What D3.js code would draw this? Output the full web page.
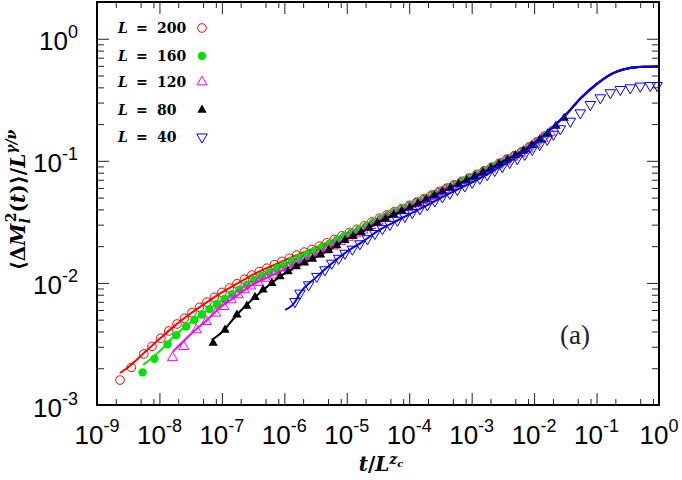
<!DOCTYPE html>
<html><head><meta charset="utf-8">
<script src="https://cdn.jsdelivr.net/npm/d3@7"></script>
<style>body{margin:0;background:#fff}svg{display:block}</style>
</head><body>
<svg id="c" width="682" height="480"></svg>
<script>
// ---------- tick data ----------
const xMajor = [1e-9,1e-8,1e-7,1e-6,1e-5,1e-4,1e-3,1e-2,1e-1,1];
const xExps  = ["-9","-8","-7","-6","-5","-4","-3","-2","-1","0"];
const yMajor = [1e-3,1e-2,1e-1,1];
const yExps  = ["-3","-2","-1","0"];
const xMinorMant = [2,5,8];
const yMinorMant = [2,3,4,5,6,7,8,9];
const legendLabels = ["200","160","120","80","40"];

// ---------- series data (points) ----------
const red_t = [2.34e-9,3.55e-9,5.62e-9,7.59e-9,1.05e-8,1.41e-8,1.91e-8,2.51e-8,3.31e-8,4.37e-8,5.75e-8,7.59e-8,1e-7,1.32e-7,1.74e-7,2.29e-7,3.02e-7,3.98e-7,5.25e-7,6.92e-7,9.12e-7,1.20e-6,1.58e-6,2.09e-6,2.75e-6,3.63e-6,4.79e-6,6.31e-6,8.32e-6,1.10e-5,1.45e-5,1.91e-5,2.51e-5,3.31e-5,4.37e-5,5.75e-5,7.59e-5,1e-4,1.32e-4,1.74e-4,2.29e-4,3.02e-4,3.98e-4,5.25e-4,6.92e-4,9.12e-4,1.20e-3,1.58e-3,2.09e-3,2.75e-3,3.63e-3,4.79e-3,6.31e-3,8.32e-3,1.10e-2,1.45e-2];
const red_v = [0.0016,0.00203,0.00262,0.00302,0.00352,0.00404,0.00461,0.00514,0.00572,0.00631,0.00695,0.00762,0.00836,0.00908,0.00984,0.0107,0.0116,0.0124,0.0132,0.0141,0.0150,0.0159,0.0169,0.0179,0.0188,0.0200,0.0213,0.0227,0.0243,0.0259,0.0275,0.0293,0.0316,0.0339,0.0361,0.0384,0.0407,0.0432,0.0460,0.0491,0.0525,0.0561,0.0598,0.0637,0.0679,0.0724,0.0774,0.0828,0.0887,0.0955,0.103,0.110,0.119,0.130,0.143,0.159];

const green_t = [5.37e-9,8.32e-9,1.35e-8,1.86e-8,2.69e-8,3.63e-8,4.79e-8,6.31e-8,8.32e-8,1.10e-7,1.45e-7,1.91e-7,2.51e-7,3.31e-7,4.37e-7,5.75e-7,7.59e-7,1e-6,1.32e-6,1.74e-6,2.29e-6,3.02e-6,3.98e-6,5.25e-6,6.92e-6,9.12e-6,1.20e-5,1.58e-5,2.09e-5,2.75e-5,3.63e-5,4.79e-5,6.31e-5,8.32e-5,1.10e-4,1.45e-4,1.91e-4,2.51e-4,3.31e-4,4.37e-4,5.75e-4,7.59e-4,1e-3,1.32e-3,1.74e-3,2.29e-3,3.02e-3,3.98e-3,5.25e-3,6.92e-3,9.12e-3,1.20e-2,1.58e-2];
const green_v = [0.00185,0.00239,0.00314,0.00373,0.00440,0.00497,0.00551,0.00611,0.00671,0.00738,0.00807,0.00885,0.00966,0.0106,0.0114,0.0122,0.0132,0.0141,0.0151,0.0162,0.0172,0.0183,0.0196,0.0209,0.0225,0.0242,0.0259,0.0275,0.0294,0.0318,0.0341,0.0364,0.0388,0.0411,0.0438,0.0467,0.0499,0.0535,0.0572,0.0608,0.0647,0.0690,0.0736,0.0787,0.0843,0.0906,0.0975,0.105,0.112,0.122,0.133,0.147,0.164];

const magenta_t = [1.62e-8,2.45e-8,3.89e-8,5.62e-8,7.94e-8,1.07e-7,1.41e-7,1.82e-7,2.29e-7,2.88e-7,3.80e-7,5.01e-7,6.61e-7,8.71e-7,1.15e-6,1.51e-6,2.00e-6,2.63e-6,3.47e-6,4.57e-6,6.03e-6,7.94e-6,1.05e-5,1.38e-5,1.82e-5,2.40e-5,3.16e-5,4.17e-5,5.50e-5,7.24e-5,9.55e-5,1.26e-4,1.66e-4,2.19e-4,2.88e-4,3.80e-4,5.01e-4,6.61e-4,8.71e-4,1.15e-3,1.51e-3,2.00e-3,2.63e-3,3.47e-3,4.57e-3,6.03e-3,7.94e-3,1.05e-2,1.38e-2,1.82e-2];
const magenta_v = [0.00244,0.00301,0.00412,0.00482,0.00565,0.00640,0.00726,0.00798,0.00877,0.00942,0.0101,0.0109,0.0116,0.0124,0.0133,0.0143,0.0152,0.0162,0.0173,0.0186,0.0200,0.0218,0.0236,0.0252,0.0270,0.0294,0.0319,0.0341,0.0366,0.0389,0.0415,0.0443,0.0473,0.0507,0.0542,0.0578,0.0617,0.0656,0.0700,0.0748,0.0800,0.0857,0.0923,0.0991,0.107,0.115,0.125,0.137,0.153,0.171];

const black_t = [7.24e-8,1.12e-7,1.74e-7,2.51e-7,3.39e-7,4.57e-7,6.31e-7,8.51e-7,1.15e-6,1.55e-6,2.09e-6,2.82e-6,3.80e-6,5.13e-6,6.92e-6,9.33e-6,1.26e-5,1.70e-5,2.29e-5,3.09e-5,4.17e-5,5.62e-5,7.59e-5,1.02e-4,1.38e-4,1.86e-4,2.51e-4,3.39e-4,4.57e-4,6.17e-4,8.32e-4,1.12e-3,1.51e-3,2.04e-3,2.75e-3,3.72e-3,5.01e-3,6.76e-3,9.12e-3,1.23e-2,1.66e-2,2.24e-2,3.02e-2];
const black_v = [0.00321,0.00412,0.00547,0.00647,0.00764,0.00877,0.00995,0.0113,0.0124,0.0136,0.0146,0.0157,0.0170,0.0185,0.0202,0.0223,0.0241,0.0259,0.0282,0.0309,0.0334,0.0361,0.0387,0.0414,0.0446,0.0481,0.0520,0.0561,0.0601,0.0646,0.0693,0.0746,0.0805,0.0871,0.0944,0.102,0.111,0.121,0.134,0.149,0.168,0.193,0.224];

const blue_t = [1.48e-6,1.78e-6,2.45e-6,3.31e-6,4.47e-6,5.75e-6,7.41e-6,9.33e-6,1.23e-5,1.62e-5,2.14e-5,2.82e-5,3.72e-5,4.90e-5,6.46e-5,8.51e-5,1.12e-4,1.48e-4,1.95e-4,2.57e-4,3.39e-4,4.47e-4,5.89e-4,7.76e-4,1.02e-3,1.35e-3,1.78e-3,2.34e-3,3.09e-3,4.07e-3,5.37e-3,7.08e-3,9.33e-3,1.23e-2,1.62e-2,2.04e-2,2.63e-2,3.80e-2,5.50e-2,7.94e-2,0.115,0.166,0.240,0.347,0.501,0.724,0.933];
const blue_v = [0.00703,0.00824,0.00964,0.0113,0.0128,0.0145,0.0159,0.0175,0.0189,0.0209,0.0230,0.0254,0.0278,0.0301,0.0326,0.0350,0.0377,0.0405,0.0436,0.0469,0.0506,0.0542,0.0581,0.0622,0.0667,0.0719,0.0771,0.0834,0.0897,0.0968,0.104,0.113,0.124,0.136,0.150,0.165,0.183,0.211,0.247,0.289,0.328,0.361,0.384,0.396,0.409,0.414,0.414];

// ---------- series data (solid curves) ----------
const redLine_t = [2.34e-9,3.16e-9,5.62e-9,1e-8,1.78e-8,3.16e-8,5.62e-8,1e-7,1.78e-7,3.16e-7,5.62e-7,1e-6,1.78e-6,3.16e-6,5.62e-6,1e-5,1.78e-5,3.16e-5,5.62e-5];
const redLine_v = [0.00183,0.00204,0.00266,0.00347,0.00449,0.00562,0.00690,0.00836,0.00991,0.0117,0.0134,0.0153,0.0173,0.0194,0.0221,0.0255,0.0288,0.0335,0.0382];
const greenLine_t = [5.50e-9,1e-8,1.78e-8,3.16e-8,5.62e-8,1e-7,1.78e-7,3.16e-7,5.62e-7,1e-6,1.78e-6,3.16e-6,5.62e-6,1e-5,1.78e-5,3.16e-5,5.62e-5];
const greenLine_v = [0.00213,0.00275,0.00372,0.00476,0.00587,0.00718,0.00867,0.0105,0.0122,0.0141,0.0163,0.0185,0.0213,0.0248,0.0282,0.0330,0.0378];
const magentaLine_t = [1.63e-8,3.16e-8,5.62e-8,1e-7,1.78e-7,3.16e-7,5.62e-7,1e-6,1.78e-6,3.16e-6,5.62e-6,1e-5,1.78e-5,3.16e-5,5.62e-5,1e-4,1.78e-4];
const magentaLine_v = [0.00273,0.00380,0.00490,0.00646,0.00794,0.00973,0.0112,0.0129,0.0148,0.0169,0.0197,0.0233,0.0269,0.0319,0.0368,0.0419,0.0482];
const blackLine_t = [6.87e-8,1e-7,1.78e-7,3.16e-7,5.62e-7,1e-6,1.78e-6,3.16e-6,5.62e-6,1e-5,1.78e-5,3.16e-5,5.62e-5,1e-4,1.78e-4,3.16e-4,5.62e-4,1e-3,1.78e-3];
const blackLine_v = [0.00341,0.00394,0.00556,0.00741,0.00955,0.0119,0.0141,0.0162,0.0190,0.0228,0.0262,0.0313,0.0361,0.0412,0.0475,0.0552,0.0632,0.0726,0.0839];
const blueLine_t = [1.03e-6,1.48e-6,1.78e-6,3.16e-6,5.62e-6,1e-5,1.78e-5,3.16e-5,5.62e-5,1e-4,1.78e-4,3.16e-4,5.62e-4,1e-3,1.78e-3,3.16e-3,5.62e-3,1e-2];
const blueLine_v = [0.00601,0.00698,0.00824,0.0110,0.0143,0.0180,0.0217,0.0267,0.0313,0.0364,0.0424,0.0495,0.0574,0.0664,0.0776,0.0920,0.110,0.135];
// common late-time part shared by all curves
const tail_t = [1e-4,1.78e-4,3.16e-4,5.62e-4,1e-3,1.78e-3,3.16e-3,5.62e-3,1e-2,1.78e-2,3.16e-2,5.62e-2,0.1,0.178,0.316,0.562,1];
const tail_v = [0.0432,0.0493,0.0568,0.0647,0.0740,0.0851,0.0991,0.115,0.140,0.180,0.236,0.327,0.425,0.519,0.571,0.589,0.593];

// ---------- layout ----------
const M = {left:97, right:659, top:2, bottom:405};
const x = d3.scaleLog().domain([1e-9,1]).range([M.left,M.right]);
const y = d3.scaleLog().domain([1e-3,2]).range([M.bottom,M.top]);
const svg = d3.select("#c");
svg.append("rect").attr("width",682).attr("height",480).attr("fill","#fff");

const series = [
  {lab:legendLabels[0], t:red_t, v:red_v, lt:redLine_t, lv:redLine_v, color:"#ff0000", mk:"circleOpen"},
  {lab:legendLabels[1], t:green_t, v:green_v, lt:greenLine_t, lv:greenLine_v, color:"#00e000", mk:"circleFilled"},
  {lab:legendLabels[2], t:magenta_t, v:magenta_v, lt:magentaLine_t, lv:magentaLine_v, color:"#ff00ff", mk:"triOpen"},
  {lab:legendLabels[3], t:black_t, v:black_v, lt:blackLine_t, lv:blackLine_v, color:"#000000", mk:"triFilled"},
  {lab:legendLabels[4], t:blue_t, v:blue_v, lt:blueLine_t, lv:blueLine_v, color:"#0000ff", mk:"triDownOpen"}
];

function drawMarker(g, kind, color, cx, cy){
  if(kind==="circleOpen"){
    g.append("circle").attr("cx",cx).attr("cy",cy).attr("r",4.3).attr("fill","none").attr("stroke",color).attr("stroke-width",1);
  } else if(kind==="circleFilled"){
    g.append("circle").attr("cx",cx).attr("cy",cy).attr("r",4.2).attr("fill",color);
  } else if(kind==="triOpen"){
    g.append("path").attr("d",d3.symbol(d3.symbolTriangle,44)()).attr("transform",`translate(${cx},${cy})`).attr("fill","none").attr("stroke",color).attr("stroke-width",1);
  } else if(kind==="triFilled"){
    g.append("path").attr("d",d3.symbol(d3.symbolTriangle,38)()).attr("transform",`translate(${cx},${cy})`).attr("fill",color);
  } else {
    g.append("path").attr("d",d3.symbol(d3.symbolTriangle,48)()).attr("transform",`translate(${cx},${cy}) rotate(180)`).attr("fill","none").attr("stroke",color).attr("stroke-width",1);
  }
}

const line = d3.line().x(d=>x(d[0])).y(d=>y(d[1])).curve(d3.curveMonotoneX);
const plot = svg.append("g");
series.forEach(s=>{
  const head = s.lt.map((t,i)=>[t,s.lv[i]]);
  const last = s.lt[s.lt.length-1];
  const pts = head.concat(tail_t.map((t,i)=>[t,tail_v[i]]).filter(d=>d[0]>last*1.01));
  plot.append("path").attr("d",line(pts)).attr("fill","none").attr("stroke",s.color).attr("stroke-width",2);
  const g = plot.append("g");
  s.t.forEach((t,i)=>drawMarker(g,s.mk,s.color,x(t),y(s.v[i])));
});

// ---------- axes ----------
const xMinor = [], yMinor = [];
xMajor.slice(0,-1).forEach(d=>xMinorMant.forEach(m=>xMinor.push(d*m)));
yMajor.forEach(d=>yMinorMant.forEach(m=>{ if(d*m<2) yMinor.push(d*m); }));

function ax(gen, tr, vals, size){
  const g = svg.append("g").attr("transform",tr)
    .call(gen.tickValues(vals).tickSizeInner(-size).tickSizeOuter(0).tickFormat(""));
  g.select(".domain").remove();
  g.selectAll("line").attr("stroke","#222").attr("stroke-width",1);
}
ax(d3.axisBottom(x), `translate(0,${M.bottom})`, xMajor, 12);
ax(d3.axisBottom(x), `translate(0,${M.bottom})`, xMinor, 6);
ax(d3.axisTop(x), `translate(0,${M.top})`, xMajor, 12);
ax(d3.axisTop(x), `translate(0,${M.top})`, xMinor, 6);
ax(d3.axisLeft(y), `translate(${M.left},0)`, yMajor, 12);
ax(d3.axisLeft(y), `translate(${M.left},0)`, yMinor, 7);
ax(d3.axisRight(y), `translate(${M.right},0)`, yMajor, 12);
ax(d3.axisRight(y), `translate(${M.right},0)`, yMinor, 7);

svg.append("rect").attr("x",M.left).attr("y",M.top).attr("width",M.right-M.left).attr("height",M.bottom-M.top)
  .attr("fill","none").attr("stroke","#000").attr("stroke-width",2);

const sans = "'Liberation Sans', Arial, Helvetica, sans-serif";
xMajor.forEach((d,i)=>{
  const t = svg.append("text").attr("x",x(d)).attr("y",444).attr("text-anchor","middle")
    .attr("font-family",sans).attr("font-size",26).attr("fill","#000");
  t.append("tspan").text("10");
  t.append("tspan").attr("font-size",18).attr("dy",-12).text(xExps[i]);
});
yMajor.forEach((d,i)=>{
  const t = svg.append("text").attr("x",78).attr("y",y(d)+11.5).attr("text-anchor","end")
    .attr("font-family",sans).attr("font-size",26).attr("fill","#000");
  t.append("tspan").text("10");
  t.append("tspan").attr("font-size",18).attr("dy",-12).text(yExps[i]);
});

// ---------- titles ----------
const serif = "'DejaVu Serif', serif";
const xt = svg.append("text").attr("x",381).attr("y",471).attr("text-anchor","middle")
  .attr("font-family",serif).attr("font-weight","bold").attr("font-size",20).attr("fill","#000");
xt.append("tspan").attr("font-style","italic").text("t");
xt.append("tspan").text("/");
xt.append("tspan").attr("font-style","italic").text("L");
xt.append("tspan").attr("font-style","italic").attr("font-size",14).attr("dy",-7).text("z");
xt.append("tspan").attr("font-style","italic").attr("font-size",10).attr("dy",3).text("c");

const yt = svg.append("text").attr("transform","translate(25,200) rotate(-90)").attr("text-anchor","middle")
  .attr("font-family",serif).attr("font-weight","bold").attr("font-size",20).attr("fill","#000");
yt.append("tspan").text("⟨Δ");
yt.append("tspan").attr("font-style","italic").text("M");
yt.append("tspan").attr("font-style","italic").attr("font-size",14).attr("dy",5).text("l");
yt.append("tspan").attr("font-size",14).attr("dx",-4).attr("dy",-14).text("2");
yt.append("tspan").attr("dy",9).text("(");
yt.append("tspan").attr("font-style","italic").text("t");
yt.append("tspan").text(")⟩/");
yt.append("tspan").attr("font-style","italic").text("L");
yt.append("tspan").attr("font-style","italic").attr("font-size",14).attr("dy",-9).text("γ/ν");

// ---------- legend ----------
const rowY = [28,56,82,110,137];
series.forEach((s,i)=>{
  const t = svg.append("text").attr("y",rowY[i]+5).attr("font-family",serif).attr("font-weight","bold")
    .attr("font-size",14).attr("fill","#000");
  t.append("tspan").attr("x",118).attr("font-style","italic").text("L");
  t.append("tspan").attr("x",136).text("=");
  t.append("tspan").attr("x",157).text(s.lab);
  drawMarker(svg.append("g"), s.mk, s.color, 202, rowY[i]);
});

svg.append("text").attr("x",575).attr("y",344).attr("text-anchor","middle")
  .attr("font-family","'Liberation Serif', 'Times New Roman', serif").attr("font-size",27).attr("fill","#222").text("(a)");
</script>
</body></html>
